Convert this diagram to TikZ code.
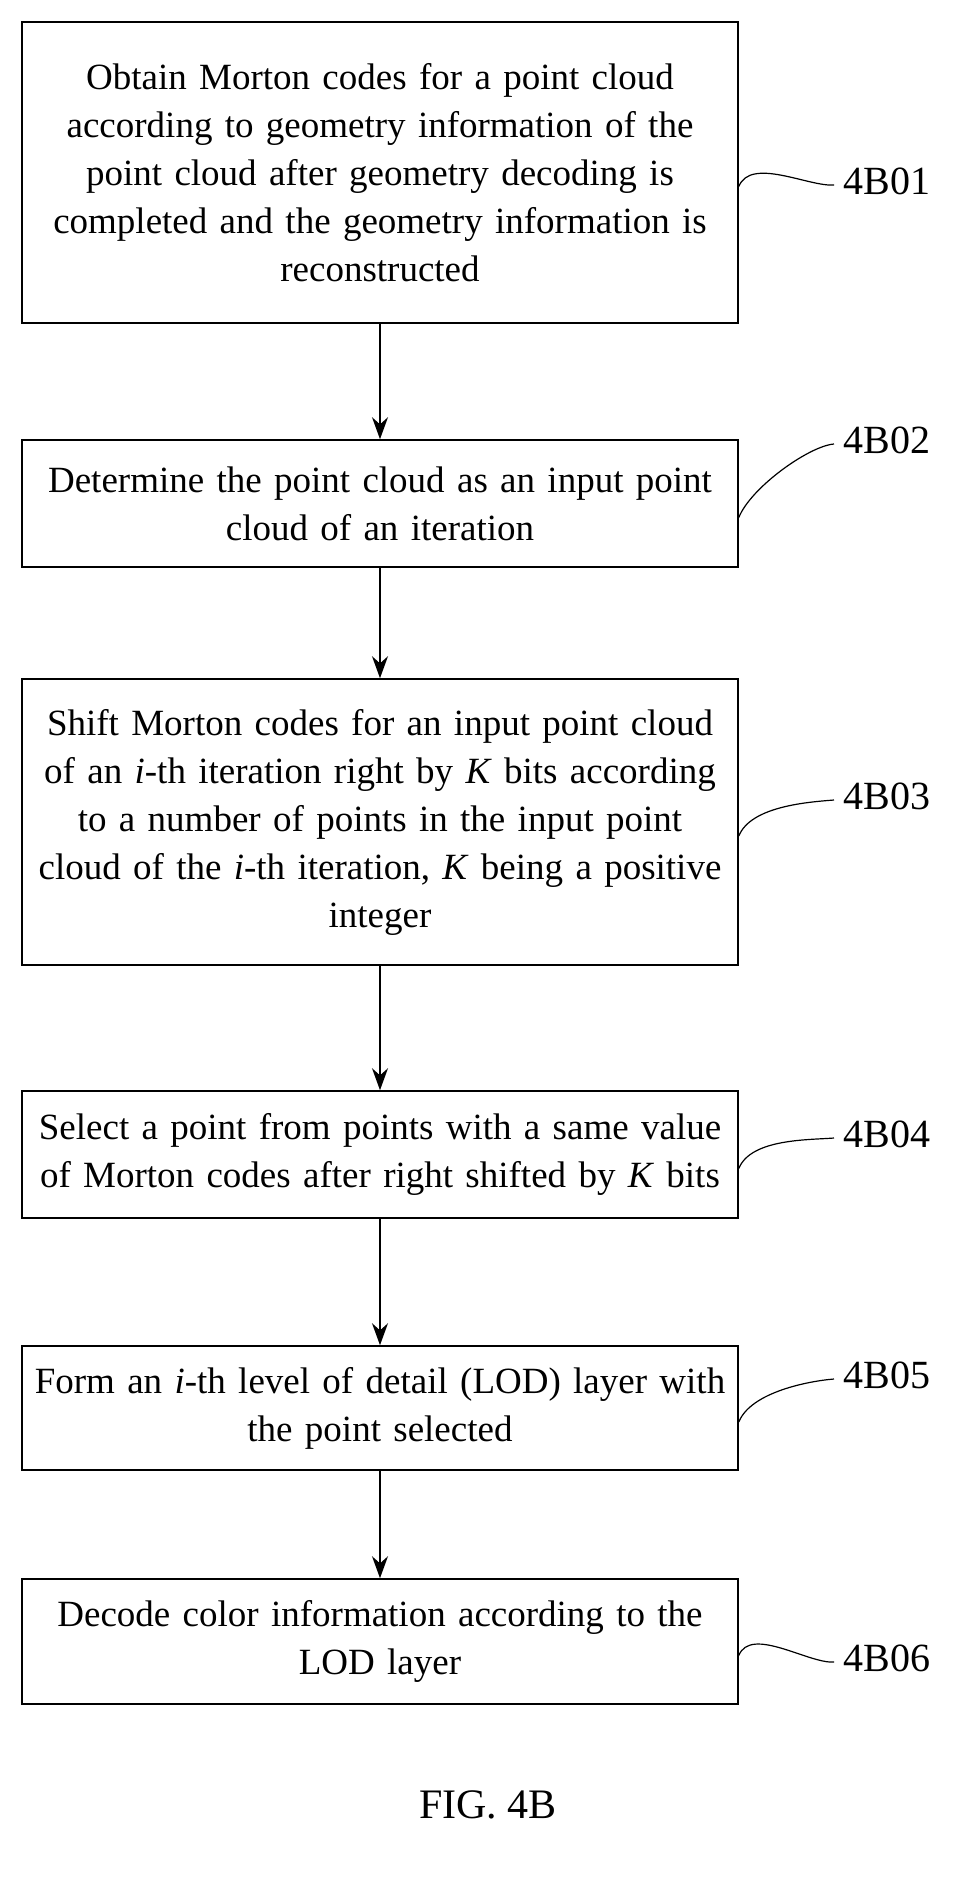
\documentclass[tikz,border=0pt]{standalone}
\usepackage{fontspec}
\setmainfont{Liberation Serif}
\usetikzlibrary{arrows.meta}
\begin{document}
\begin{tikzpicture}[x=1pt,y=-1pt,
  stepbox/.style={draw,line width=1.6pt,minimum width=716pt,text width=716pt,align=center,inner sep=0pt,font=\fontsize{37}{48}\selectfont},
  lbl/.style={anchor=west,font=\fontsize{40}{40}\selectfont},
  arr/.style={-{Stealth[length=22pt,width=16pt]},line width=1.4pt},
  lead/.style={line width=1.2pt}]
\useasboundingbox (0,0) rectangle (965,1888);
\node[stepbox,minimum height=301pt] (b1) at (380,172.5) {Obtain Morton codes for a point cloud\\according to geometry information of the\\point cloud after geometry decoding is\\completed and the geometry information is\\reconstructed};
\node[stepbox,minimum height=127pt] (b2) at (380,503.5) {Determine the point cloud as an input point\\cloud of an iteration};
\node[stepbox,minimum height=286pt] (b3) at (380,822) {Shift Morton codes for an input point cloud\\of an \textit{i}-th iteration right by \textit{K} bits according\\to a number of points in the input point\\cloud of the \textit{i}-th iteration, \textit{K} being a positive\\integer};
\node[stepbox,minimum height=127pt] (b4) at (380,1154.5) {Select a point from points with a same value\\of Morton codes after right shifted by \textit{K} bits};
\node[stepbox,minimum height=124pt] (b5) at (380,1408) {Form an \textit{i}-th level of detail (LOD) layer with\\the point selected};
\node[stepbox,minimum height=125pt] (b6) at (380,1641.5) {Decode color information according to the\\LOD layer};
\foreach \a/\b in {b1/b2,b2/b3,b3/b4,b4/b5,b5/b6} \draw[arr] (\a.south) -- (\b.north);
\node[lbl] (l1) at (840,181) {4B01};
\node[lbl] (l2) at (840,440) {4B02};
\node[lbl] (l3) at (840,796) {4B03};
\node[lbl] (l4) at (840,1134) {4B04};
\node[lbl] (l5) at (840,1375) {4B05};
\node[lbl] (l6) at (840,1658) {4B06};
\foreach \b/\l in {b1/l1,b2/l2,b3/l3,b4/l4,b5/l5,b6/l6}
  \draw[lead] ([yshift=-14pt]\b.east) .. controls +(12,-30) and +(-25,2) .. ([xshift=-6pt,yshift=-4pt]\l.west);
\node[font=\fontsize{42}{44}\selectfont] (fig) at (488,1805) {FIG. 4B};
\end{tikzpicture}
\end{document}
